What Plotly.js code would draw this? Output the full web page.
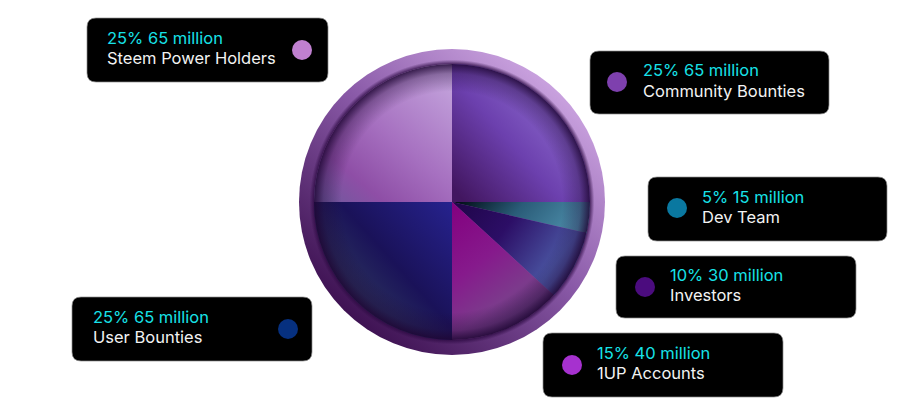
<!DOCTYPE html>
<html>
<head>
<meta charset="utf-8">
<script src="https://cdn.plot.ly/plotly-3.0.1.min.js"></script>
<style>html,body{margin:0;padding:0;background:#fff;}#chart{width:900px;height:414px;}</style>
</head>
<body>
<div id="chart"></div>
<script>
// ---- data ----
const labels = ["Community Bounties", "Dev Team", "Investors", "1UP Accounts", "User Bounties", "Steem Power Holders"];
const shares = [25, 3.6, 8.2, 13.2, 25, 25];          // slice sizes
const pctLabels = ["25%", "5%", "10%", "15%", "25%", "25%"];
const amountLabels = ["65 million", "15 million", "30 million", "40 million", "65 million", "65 million"];

// ---- styling ----
const sliceColors = ["#6a44a6", "#2f6f8c", "#33277e", "#82157f", "#221a62", "#ab84c6"];
const dotColors = ["#7e40ae", "#0a78a0", "#4b0c7e", "#a631cf", "#06307f", "#c080d0"];
const gradStops = [
  {x1:0.85,y1:0.25,x2:0.05,y2:0.95, s:[[0,"#9070d2"],[0.5,"#6c40ae"],[1,"#421660"]]},
  {x1:0,y1:0.3,x2:1,y2:0.5, s:[[0,"#03101a"],[0.45,"#2a5c78"],[1,"#4f91ae"]]},
  {x1:0,y1:0.2,x2:1,y2:0.7, s:[[0,"#21064d"],[0.35,"#2c0e66"],[0.8,"#4a55a2"],[1,"#4a4c92"]]},
  {x1:0,y1:0,x2:0.55,y2:1, s:[[0,"#83007f"],[0.45,"#861a8c"],[0.75,"#7c3a8c"],[1,"#5c3a74"]]},
  {x1:1,y1:0,x2:0,y2:0.9, s:[[0,"#26228e"],[0.45,"#1a1259"],[0.8,"#2f3a5e"],[1,"#3a4868"]]},
  {x1:0.95,y1:0,x2:0.1,y2:1, s:[[0,"#c6a8df"],[0.5,"#a670c0"],[0.8,"#8e4ea6"],[1,"#72589e"]]}
];
// box [x0,y0,x1,y1], dot [cx,cy], text [x, line1 y, line2 y] in pixels
const boxes = [
  {b:[590,51,829,114], d:[617,82],  t:[643,70,91]},
  {b:[648,177,887,241], d:[677,208], t:[702,197,217]},
  {b:[616,256,856,318], d:[645,287], t:[670,275,295]},
  {b:[543,333,783,397], d:[572,365], t:[597,353,373]},
  {b:[72,297,312,361],  d:[288,329], t:[93,317,337]},
  {b:[87,18,328,82],    d:[302,50],  t:[107,38,58]}
];

const W = 900, H = 414;
const cx = 452, cy = 202, rPie = 138, rRing = 153;
const px = x => x / W, py = y => (H - y) / H;
const FONT = "Inter, Roboto, 'Noto Sans', sans-serif";

function roundRect(b, r) {
  const [x0, y0, x1, y1] = b;
  const P = (x, y) => px(x) + "," + py(y);
  return "M" + P(x0 + r, y0) + " L" + P(x1 - r, y0) + " Q" + P(x1, y0) + " " + P(x1, y0 + r) +
    " L" + P(x1, y1 - r) + " Q" + P(x1, y1) + " " + P(x1 - r, y1) +
    " L" + P(x0 + r, y1) + " Q" + P(x0, y1) + " " + P(x0, y1 - r) +
    " L" + P(x0, y0 + r) + " Q" + P(x0, y0) + " " + P(x0 + r, y0) + " Z";
}

const shapes = [], annotations = [];
boxes.forEach((o, i) => {
  shapes.push({type: "path", xref: "paper", yref: "paper", path: roundRect(o.b, 9),
    fillcolor: "#000", line: {color: "rgba(140,140,140,0.7)", width: 1}});
  shapes.push({type: "circle", xref: "paper", yref: "paper",
    x0: px(o.d[0] - 10), x1: px(o.d[0] + 10), y0: py(o.d[1] + 10), y1: py(o.d[1] - 10),
    fillcolor: dotColors[i], line: {width: 0}});
  annotations.push({xref: "paper", yref: "paper", x: px(o.t[0] - 1), y: py(o.t[1]),
    xanchor: "left", yanchor: "middle", align: "left", showarrow: false, borderpad: 0,
    text: pctLabels[i] + " " + amountLabels[i],
    font: {family: FONT, size: 16.5, color: "#17e2e8"}});
  annotations.push({xref: "paper", yref: "paper", x: px(o.t[0] - 1), y: py(o.t[2]),
    xanchor: "left", yanchor: "middle", align: "left", showarrow: false, borderpad: 0,
    text: labels[i],
    font: {family: FONT, size: 16.5, color: "#f2f2f2"}});
});

const D = 2 * rRing;
const ringSvg = '<svg xmlns="http://www.w3.org/2000/svg" width="' + D + '" height="' + D + '" viewBox="0 0 ' + D + ' ' + D + '">' +
  '<defs><linearGradient id="g" x1="0.85" y1="0.1" x2="0.15" y2="0.9">' +
  '<stop offset="0" stop-color="#cda6e2"/><stop offset="0.45" stop-color="#8a5aa8"/><stop offset="1" stop-color="#3a0e4e"/></linearGradient>' +
  '<radialGradient id="s" cx="0.5" cy="0.5" r="0.5"><stop offset="0.86" stop-color="#2a0840" stop-opacity="0"/>' +
  '<stop offset="0.9" stop-color="#2a0840" stop-opacity="0.8"/><stop offset="0.93" stop-color="#2a0840" stop-opacity="0"/></radialGradient></defs>' +
  '<circle cx="' + rRing + '" cy="' + rRing + '" r="' + rRing + '" fill="url(#g)"/>' +
  '<circle cx="' + rRing + '" cy="' + rRing + '" r="' + rRing + '" fill="url(#s)"/></svg>';
const Dp = 2 * rPie;
const shadeSvg = '<svg xmlns="http://www.w3.org/2000/svg" width="' + Dp + '" height="' + Dp + '" viewBox="0 0 ' + Dp + ' ' + Dp + '">' +
  '<defs><radialGradient id="r" cx="0.5" cy="0.5" r="0.5">' +
  '<stop offset="0.8" stop-color="#1e0533" stop-opacity="0"/>' +
  '<stop offset="0.93" stop-color="#1e0533" stop-opacity="0.35"/>' +
  '<stop offset="1" stop-color="#1e0533" stop-opacity="0.85"/></radialGradient></defs>' +
  '<circle cx="' + rPie + '" cy="' + rPie + '" r="' + rPie + '" fill="url(#r)"/></svg>';
const uri = s => "data:image/svg+xml;charset=utf-8," + encodeURIComponent(s);

const images = [
  {source: uri(ringSvg), xref: "paper", yref: "paper", x: px(cx - rRing), y: py(cy - rRing),
    sizex: D / W, sizey: D / H, sizing: "stretch", xanchor: "left", yanchor: "top", layer: "below"},
  {source: uri(shadeSvg), xref: "paper", yref: "paper", x: px(cx - rPie), y: py(cy - rPie),
    sizex: Dp / W, sizey: Dp / H, sizing: "stretch", xanchor: "left", yanchor: "top", layer: "above"}
];

const trace = {
  type: "pie", labels: labels, values: shares, sort: false, direction: "clockwise", rotation: 0,
  marker: {colors: sliceColors, line: {width: 0}}, textinfo: "none", hoverinfo: "skip",
  domain: {x: [px(cx - rPie), px(cx + rPie)], y: [py(cy + rPie), py(cy - rPie)]}
};

const layout = {
  width: W, height: H, margin: {l: 0, r: 0, t: 0, b: 0}, showlegend: false,
  paper_bgcolor: "#fff", shapes: shapes, annotations: annotations, images: images
};

Plotly.newPlot("chart", [trace], layout, {displayModeBar: false, staticPlot: true}).then(gd => {
  const svg = gd.querySelector("svg.main-svg");
  const NS = "http://www.w3.org/2000/svg";
  let defs = svg.querySelector("defs");
  if (!defs) { defs = document.createElementNS(NS, "defs"); svg.insertBefore(defs, svg.firstChild); }
  gradStops.forEach((g, i) => {
    const lg = document.createElementNS(NS, "linearGradient");
    lg.setAttribute("id", "slicegrad" + i);
    ["x1", "y1", "x2", "y2"].forEach(k => lg.setAttribute(k, g[k]));
    g.s.forEach(([o, c]) => {
      const st = document.createElementNS(NS, "stop");
      st.setAttribute("offset", o); st.setAttribute("stop-color", c); lg.appendChild(st);
    });
    defs.appendChild(lg);
  });
  const paths = gd.querySelectorAll("g.slice path.surface");
  paths.forEach((p, i) => {
    const idx = p.__data__ && p.__data__.i !== undefined ? p.__data__.i : i;
    p.style.fill = "url(#slicegrad" + idx + ")";
  });
});
</script>
</body>
</html>
